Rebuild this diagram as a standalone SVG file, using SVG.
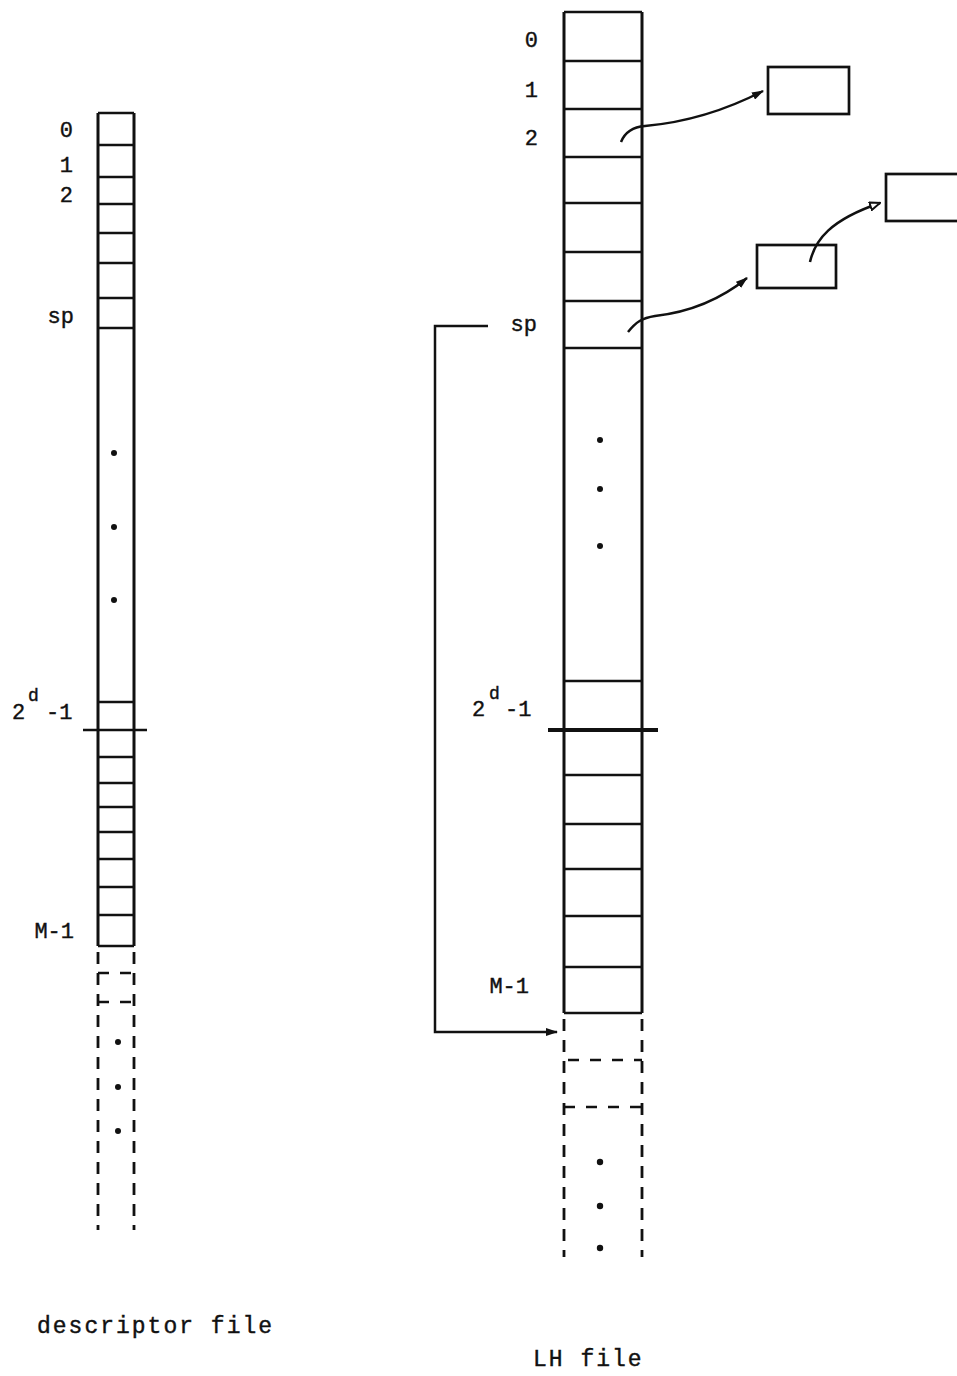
<svg xmlns="http://www.w3.org/2000/svg" width="957" height="1376" viewBox="0 0 957 1376">
<style>
.col{stroke:#111;stroke-width:3;fill:none}
.row{stroke:#111;stroke-width:2.5}
.dash{stroke:#111;stroke-width:2.8;stroke-dasharray:12,9;fill:none}
.dashh{stroke:#111;stroke-width:2.5;stroke-dasharray:11,11}
.sep{stroke:#111;stroke-width:2.4}
.sepb{stroke:#111;stroke-width:4}
.dot{fill:#111}
.lbl{font-family:"Liberation Mono","DejaVu Sans Mono",monospace;font-size:22px;fill:#111;stroke:#111;stroke-width:0.4}
.sup{font-family:"Liberation Mono","DejaVu Sans Mono",monospace;font-size:18px;fill:#111;stroke:#111;stroke-width:0.4}
.cap{font-family:"Liberation Mono","DejaVu Sans Mono",monospace;font-size:23px;fill:#111;letter-spacing:2px;stroke:#111;stroke-width:0.4}
.box{stroke:#111;stroke-width:2.7;fill:none}
.conn{stroke:#111;stroke-width:2.5;fill:none}
</style>
<defs>
<marker id="ah" viewBox="0 0 12 8" refX="11" refY="4" markerWidth="12" markerHeight="8" markerUnits="userSpaceOnUse" orient="auto">
<path d="M0,0 L12,4 L0,8 Z" fill="#111"/>
</marker>
<marker id="ao" viewBox="0 0 12 10" refX="11" refY="5" markerWidth="12" markerHeight="10" markerUnits="userSpaceOnUse" orient="auto">
<path d="M1,1 L11,5 L1,9 Z" fill="#fff" stroke="#111" stroke-width="2"/>
</marker>
</defs>

<g id="descriptor-file">
<line class="col" x1="98" y1="113" x2="98" y2="946"/>
<line class="col" x1="134" y1="113" x2="134" y2="946"/>
<line class="row" x1="98" y1="113" x2="134" y2="113"/>
<line class="row" x1="98" y1="145" x2="134" y2="145"/>
<line class="row" x1="98" y1="177" x2="134" y2="177"/>
<line class="row" x1="98" y1="204" x2="134" y2="204"/>
<line class="row" x1="98" y1="233" x2="134" y2="233"/>
<line class="row" x1="98" y1="263" x2="134" y2="263"/>
<line class="row" x1="98" y1="298" x2="134" y2="298"/>
<line class="row" x1="98" y1="328" x2="134" y2="328"/>
<line class="row" x1="98" y1="702" x2="134" y2="702"/>
<line class="sep" x1="83" y1="730" x2="147" y2="730"/>
<line class="row" x1="98" y1="757" x2="134" y2="757"/>
<line class="row" x1="98" y1="783" x2="134" y2="783"/>
<line class="row" x1="98" y1="807" x2="134" y2="807"/>
<line class="row" x1="98" y1="832" x2="134" y2="832"/>
<line class="row" x1="98" y1="859" x2="134" y2="859"/>
<line class="row" x1="98" y1="887" x2="134" y2="887"/>
<line class="row" x1="98" y1="915" x2="134" y2="915"/>
<line class="row" x1="98" y1="946" x2="134" y2="946"/>
<line class="dash" x1="98" y1="952" x2="98" y2="1230"/>
<line class="dash" x1="134" y1="952" x2="134" y2="1230"/>
<line class="dashh" x1="98" y1="973" x2="134" y2="973" stroke-dasharray="8,6"/>
<line class="dashh" x1="98" y1="1002" x2="134" y2="1002" stroke-dasharray="8,6"/>
<circle class="dot" cx="114" cy="453" r="3"/>
<circle class="dot" cx="114" cy="527" r="3"/>
<circle class="dot" cx="114" cy="600" r="3"/>
<circle class="dot" cx="118" cy="1042" r="3"/>
<circle class="dot" cx="118" cy="1087" r="3"/>
<circle class="dot" cx="118" cy="1131" r="3"/>
<text class="lbl" x="73" y="137" text-anchor="end">0</text>
<text class="lbl" x="73" y="172" text-anchor="end">1</text>
<text class="lbl" x="73" y="202" text-anchor="end">2</text>
<text class="lbl" x="74" y="323" text-anchor="end">sp</text>
<text class="lbl" x="12" y="719">2</text>
<text class="sup" x="28" y="701">d</text>
<text class="lbl" x="46" y="719">-1</text>
<text class="lbl" x="74" y="938" text-anchor="end">M-1</text>
<text class="cap" x="37" y="1333">descriptor file</text>
</g>

<g id="lh-file">
<line class="col" x1="564" y1="12" x2="564" y2="1013"/>
<line class="col" x1="642" y1="12" x2="642" y2="1013"/>
<line class="row" x1="564" y1="12" x2="642" y2="12"/>
<line class="row" x1="564" y1="61" x2="642" y2="61"/>
<line class="row" x1="564" y1="109" x2="642" y2="109"/>
<line class="row" x1="564" y1="157" x2="642" y2="157"/>
<line class="row" x1="564" y1="203" x2="642" y2="203"/>
<line class="row" x1="564" y1="252" x2="642" y2="252"/>
<line class="row" x1="564" y1="301" x2="642" y2="301"/>
<line class="row" x1="564" y1="348" x2="642" y2="348"/>
<line class="row" x1="564" y1="681" x2="642" y2="681"/>
<line class="sepb" x1="548" y1="730" x2="658" y2="730"/>
<line class="row" x1="564" y1="775" x2="642" y2="775"/>
<line class="row" x1="564" y1="824" x2="642" y2="824"/>
<line class="row" x1="564" y1="869" x2="642" y2="869"/>
<line class="row" x1="564" y1="916" x2="642" y2="916"/>
<line class="row" x1="564" y1="967" x2="642" y2="967"/>
<line class="row" x1="564" y1="1013" x2="642" y2="1013"/>
<line class="dash" x1="564" y1="1019" x2="564" y2="1257"/>
<line class="dash" x1="642" y1="1019" x2="642" y2="1257"/>
<line class="dashh" x1="568" y1="1060" x2="642" y2="1060"/>
<line class="dashh" x1="564" y1="1107" x2="642" y2="1107"/>
<circle class="dot" cx="600" cy="440" r="3"/>
<circle class="dot" cx="600" cy="489" r="3"/>
<circle class="dot" cx="600" cy="546" r="3"/>
<circle class="dot" cx="600" cy="1162" r="3.2"/>
<circle class="dot" cx="600" cy="1206" r="3.2"/>
<circle class="dot" cx="600" cy="1248" r="3.2"/>
<text class="lbl" x="538" y="47" text-anchor="end">0</text>
<text class="lbl" x="538" y="97" text-anchor="end">1</text>
<text class="lbl" x="538" y="145" text-anchor="end">2</text>
<text class="lbl" x="537" y="331" text-anchor="end">sp</text>
<text class="lbl" x="472" y="716">2</text>
<text class="sup" x="489" y="699">d</text>
<text class="lbl" x="505" y="716">-1</text>
<text class="lbl" x="529" y="993" text-anchor="end">M-1</text>
<text class="cap" x="533" y="1366">LH file</text>
</g>

<g id="bucket-a"><rect class="box" x="768" y="67" width="81" height="47"/></g>
<g id="bucket-b"><rect class="box" x="757" y="245" width="79" height="43"/></g>
<g id="bucket-c"><rect class="box" x="886" y="174" width="75" height="47"/></g>

<g id="connectors">
<path class="conn" d="M621,142 C625,132 632,127 645,126 C690,122 730,108 763,91" marker-end="url(#ah)"/>
<path class="conn" d="M628,332 C636,322 642,318 655,316 C690,312 720,300 747,278" marker-end="url(#ah)"/>
<path class="conn" d="M810,262 C815,240 830,220 880,203" marker-end="url(#ao)"/>
<path class="conn" d="M488,326 H435 V1032 H557" marker-end="url(#ah)"/>
</g>
</svg>
